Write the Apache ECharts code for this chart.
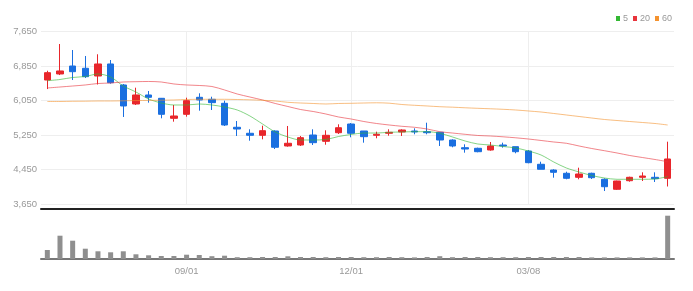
<!DOCTYPE html>
<html><head><meta charset="utf-8">
<script src="https://cdn.jsdelivr.net/npm/echarts@6/dist/echarts.min.js"></script>
<style>html,body{margin:0;padding:0;background:#fff}#c{width:693px;height:291px}</style>
</head><body><div id="c"></div>
<script>
const dates = ['06/16','06/23','06/30','07/07','07/14','07/21','07/28','08/04','08/11','08/18','08/25',
 '09/01','09/08','09/15','09/22','09/29','10/06','10/13','10/20','10/27','11/03','11/10','11/17','11/24',
 '12/01','12/08','12/15','12/22','12/29','01/05','01/12','01/19','01/26','02/02','02/09','02/16','02/23','03/01',
 '03/08','03/15','03/22','03/29','04/05','04/12','04/19','04/26','05/03','05/10','05/17','05/24'];
const tickLabels = ['09/01','12/01','03/08'];
const priceTicks = [3650, 4450, 5250, 6050, 6850, 7650];

const openP = [6525,6665,6850,6797,6618,6897,6410,5969,6178,6101,5637,5730,6124,6078,5985,5429,5290,5243,5343,4995,
 5018,5250,5104,5303,5505,5343,5243,5290,5320,5343,5327,5313,5134,4956,4942,4902,5018,4979,4879,4571,
 4438,4362,4269,4362,4223,3991,4190,4269,4269,4246];
const closeP = [6695,6735,6718,6602,6897,6463,5923,6178,6124,5730,5691,6046,6062,6000,5482,5389,5243,5350,4965,5058,
 5188,5072,5243,5419,5290,5211,5266,5313,5366,5320,5303,5134,4995,4925,4863,4995,4995,4863,4608,4455,
 4385,4246,4346,4260,4051,4183,4269,4299,4237,4694];
const highP = [6740,7360,7221,7082,7122,6989,6433,6347,6270,6108,5946,6115,6217,6138,6046,5575,5382,5466,5359,5459,
 5227,5382,5359,5498,5528,5343,5327,5382,5382,5405,5535,5313,5150,5034,4956,5088,5072,4979,4902,4631,
 4455,4399,4492,4376,4246,4190,4283,4385,4385,5095];
const lowP = [6315,6640,6525,6572,6421,6440,5668,5946,6000,5637,5559,5675,5814,5830,5459,5227,5118,5150,4925,4979,
 4995,5018,5025,5273,5197,5072,5174,5234,5227,5266,5266,4995,4965,4840,4849,4886,4956,4826,4594,4455,
 4260,4223,4223,4230,3951,3975,4167,4183,4160,4056];

const ma5 = [6509,6537,6584,6607,6665,6595,6386,6247,6085,5992,5946,5946,5969,5946,5899,5830,5691,5505,5320,5204,
 5134,5134,5146,5215,5262,5296,5296,5313,5320,5327,5327,5290,5204,5111,5041,5018,4983,4949,4879,4786,
 4624,4485,4392,4311,4253,4223,4223,4223,4230,4288];
const ma20 = [6340,6363,6386,6410,6444,6456,6479,6486,6491,6479,6433,6410,6398,6375,6294,6201,6131,6062,5981,5911,
 5841,5795,5737,5668,5621,5563,5517,5482,5452,5429,5389,5327,5296,5266,5239,5227,5208,5185,5157,5123,
 5088,5058,4995,4937,4886,4833,4775,4728,4682,4631];
const ma60 = [6027,6027,6032,6034,6039,6039,6043,6048,6052,6057,6062,6073,6078,6078,6078,6073,6066,6055,6039,6008,
 5992,5981,5969,5981,5985,5992,5997,5988,5957,5939,5923,5906,5895,5881,5869,5858,5846,5830,5807,5783,
 5749,5714,5679,5644,5610,5586,5563,5540,5517,5482];

const volume = [90,233,183,103,77,67,77,47,37,30,30,43,40,28,33,18,18,20,20,27,
 20,20,18,20,20,18,18,20,18,16,20,28,18,20,20,18,18,18,20,20,
 20,20,20,16,16,16,16,16,16,433];

const UP = '#e8262b', DOWN = '#1a6fe0';
const C5 = '#33b833', C20 = '#e8343c', C60 = '#f4922f';
const FONT = "'Liberation Sans Narrow','Liberation Sans',sans-serif";
const showTick = (i, v) => tickLabels.includes(v);

const chart = echarts.init(document.getElementById('c'), null, {renderer: 'canvas'});
const candles = dates.map((d, i) => [openP[i], closeP[i], lowP[i], highP[i]]);

chart.setOption({
  animation: false,
  legend: {
    right: 21, top: 14, padding: 0, itemGap: 5, itemWidth: 4, itemHeight: 5, icon: 'rect',
    textStyle: {color: '#999', fontSize: 9, fontFamily: FONT, padding: [0, 0, 0, -2]},
    data: ['5', '20', '60']
  },
  grid: [
    {left: 41, right: 19, top: 31.5, height: 172.5},
    {left: 41, right: 19, top: 210, height: 49}
  ],
  xAxis: [
    {type: 'category', data: dates, gridIndex: 0, boundaryGap: true,
     axisLabel: {show: false}, axisTick: {show: false},
     axisLine: {show: true, onZero: false, lineStyle: {color: '#222', width: 2}}, offset: 5,
     splitLine: {show: true, interval: showTick, alignWithLabel: true, lineStyle: {color: '#eeeeee'}}},
    {type: 'category', data: dates, gridIndex: 1, boundaryGap: true,
     axisLabel: {interval: showTick, color: '#999', fontSize: 9.5, fontFamily: FONT, margin: 7},
     axisTick: {interval: showTick, alignWithLabel: true, length: 3, lineStyle: {color: '#555'}},
     axisLine: {lineStyle: {color: '#777', width: 2}}, splitLine: {show: false}}
  ],
  yAxis: [
    {type: 'value', gridIndex: 0, min: priceTicks[0], max: priceTicks[priceTicks.length - 1],
     interval: priceTicks[1] - priceTicks[0],
     axisLabel: {color: '#999', fontSize: 9.5, fontFamily: FONT, margin: 4,
       formatter: v => v.toLocaleString('en-US')},
     axisLine: {show: false}, axisTick: {show: false},
     splitLine: {lineStyle: {color: '#eeeeee'}}},
    {type: 'value', gridIndex: 1, min: 0, max: Math.max(...volume) * 49 / 43.3, show: false,
     splitLine: {show: false}}
  ],
  series: [
    {type: 'candlestick', name: 'price', xAxisIndex: 0, yAxisIndex: 0, data: candles, barWidth: 7,
     itemStyle: {color: UP, color0: DOWN, borderColor: UP, borderColor0: DOWN, borderWidth: 1}},
    {type: 'line', name: '5', xAxisIndex: 0, yAxisIndex: 0, data: ma5, smooth: 0.3, symbol: 'none',
     itemStyle: {color: C5}, lineStyle: {color: C5, width: 1, opacity: 0.6}},
    {type: 'line', name: '20', xAxisIndex: 0, yAxisIndex: 0, data: ma20, smooth: 0.3, symbol: 'none',
     itemStyle: {color: C20}, lineStyle: {color: C20, width: 1, opacity: 0.6}},
    {type: 'line', name: '60', xAxisIndex: 0, yAxisIndex: 0, data: ma60, smooth: 0.3, symbol: 'none',
     itemStyle: {color: C60}, lineStyle: {color: C60, width: 1, opacity: 0.6}},
    {type: 'bar', name: 'volume', xAxisIndex: 1, yAxisIndex: 1, data: volume, barWidth: 5,
     itemStyle: {color: '#8f8f8f'}}
  ]
});
</script>
</body></html>
